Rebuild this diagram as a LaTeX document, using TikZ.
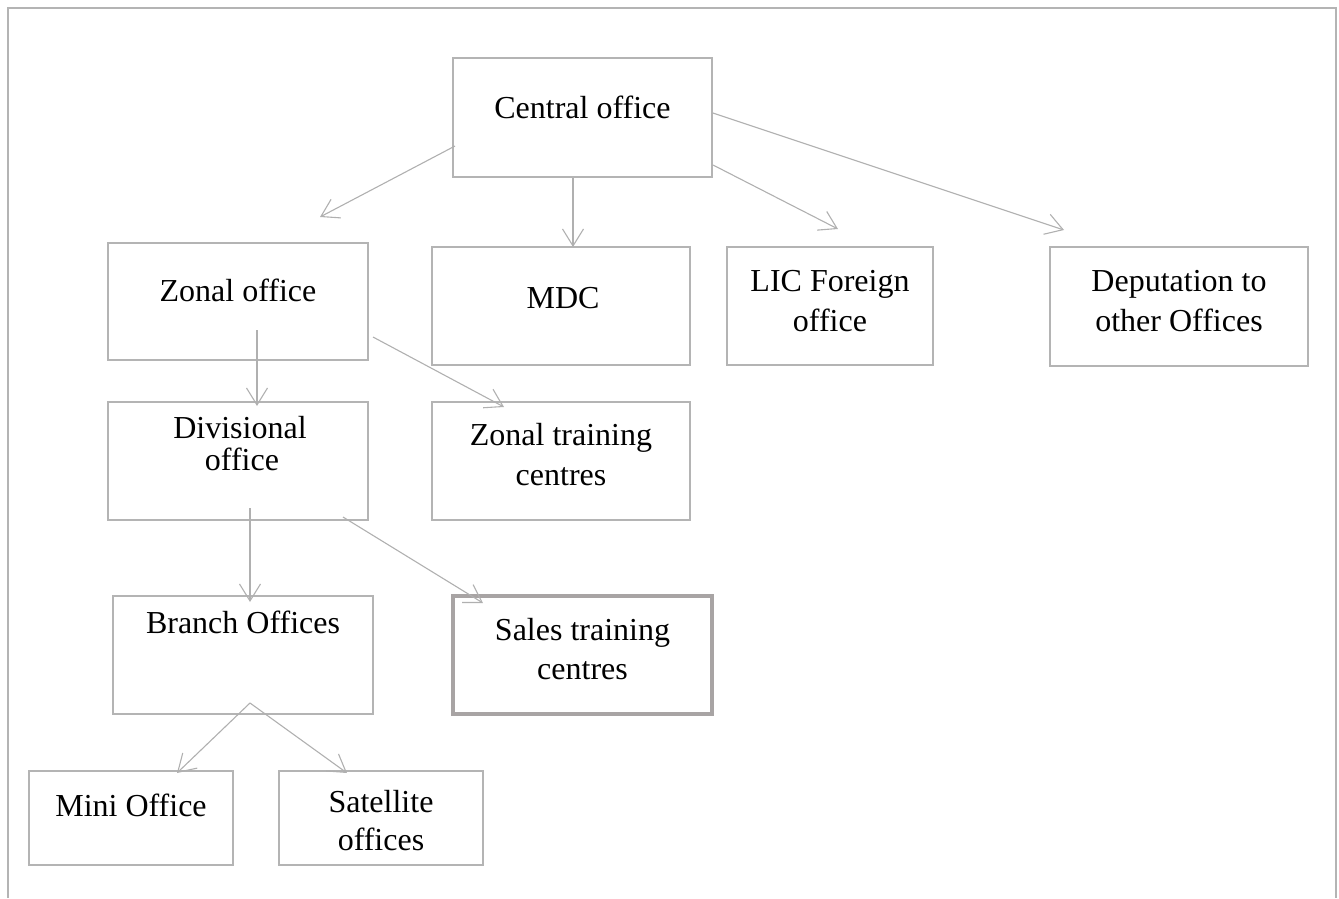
\documentclass[tikz,border=0pt]{standalone}
\usepackage{fontspec}
\setmainfont{Liberation Serif}
\usetikzlibrary{arrows.meta,calc}
\definecolor{boxgray}{RGB}{180,180,180}
\definecolor{linegray}{RGB}{176,176,176}
\definecolor{salesgray}{RGB}{168,164,164}
\begin{document}
\begin{tikzpicture}[x=1pt,y=-1pt,
  box/.style={draw=boxgray,line width=1.8pt,inner sep=0pt,outer sep=0pt},
  thickbox/.style={draw=salesgray,line width=4pt,inner sep=0pt,outer sep=0pt},
  lbl/.style={font=\fontsize{32}{38}\selectfont,anchor=base,inner sep=0pt},
  arr/.style={draw=linegray,line width=1.1pt,-{Straight Barb[length=17pt,width=21pt]}}]
\useasboundingbox (0,0) rectangle (1339,898);
% outer frame (open at bottom)
\draw[draw=boxgray,line width=2pt] (8,898) -- (8,8) -- (1336,8) -- (1336,898);

% boxes
\node[box,minimum width=259pt,minimum height=119pt] (central) at (582.5,117.5) {};
\node[box,minimum width=260pt,minimum height=117pt] (zonal) at (238,301.5) {};
\node[box,minimum width=258pt,minimum height=118pt] (mdc) at (561,306) {};
\node[box,minimum width=206pt,minimum height=118pt] (lic) at (830,306) {};
\node[box,minimum width=258pt,minimum height=119pt] (dep) at (1179,306.5) {};
\node[box,minimum width=260pt,minimum height=118pt] (div) at (238,461) {};
\node[box,minimum width=258pt,minimum height=118pt] (ztc) at (561,461) {};
\node[box,minimum width=260pt,minimum height=118pt] (branch) at (243,655) {};
\node[thickbox,minimum width=259pt,minimum height=118pt] (sales) at (582.5,655) {};
\node[box,minimum width=204pt,minimum height=94pt] (mini) at (131,818) {};
\node[box,minimum width=204pt,minimum height=94pt] (sat) at (381,818) {};

% labels
\node[lbl] (centralT) at (582.5,118) {Central office};
\node[lbl] (zonalT) at (238,301) {Zonal office};
\node[lbl] (mdcT) at (563,308) {MDC};
\node[lbl] (licA) at (830,291) {LIC Foreign};
\node[lbl] (licB) at (830,331) {office};
\node[lbl] (depA) at (1179,291) {Deputation to};
\node[lbl] (depB) at (1179,331) {other Offices};
\node[lbl] (divA) at (240,438) {Divisional};
\node[lbl] (divB) at (242,470) {office};
\node[lbl] (ztcA) at (561,445) {Zonal training};
\node[lbl] (ztcB) at (561,485) {centres};
\node[lbl] (branchT) at (243,633) {Branch Offices};
\node[lbl] (salesA) at (582.5,640) {Sales training};
\node[lbl] (salesB) at (582.5,679) {centres};
\node[lbl] (miniT) at (131,816) {Mini Office};
\node[lbl] (satA) at (381,812) {Satellite};
\node[lbl] (satB) at (381,850) {offices};

% connectors
\draw[arr] ($(central.north west)+(2,88)$) -- ($(zonal.north west)+(212,-26)$);
\draw[arr] ($(central.south west)+(120,1)$) -- ($(mdc.north west)+(141,0)$);
\draw[arr] ($(central.north east)+(1,107)$) -- ($(lic.north west)+(111,-18)$);
\draw[arr] ($(central.north east)+(1,55)$) -- ($(dep.north west)+(14,-17)$);
\draw[arr] ($(zonal.north west)+(149,87)$) -- ($(div.north west)+(149,4)$);
\draw[arr] ($(zonal.north east)+(5,94)$) -- ($(ztc.north west)+(72,5)$);
\draw[arr] ($(div.north west)+(142,106)$) -- ($(branch.north west)+(137,6)$);
\draw[arr] ($(div.north west)+(235,115)$) -- ($(sales.north west)+(30,7)$);
\draw[arr] ($(branch.north west)+(137,107)$) -- ($(mini.north west)+(148,2)$);
\draw[arr] ($(branch.north west)+(137,107)$) -- ($(sat.north west)+(68,2)$);
\end{tikzpicture}
\end{document}
